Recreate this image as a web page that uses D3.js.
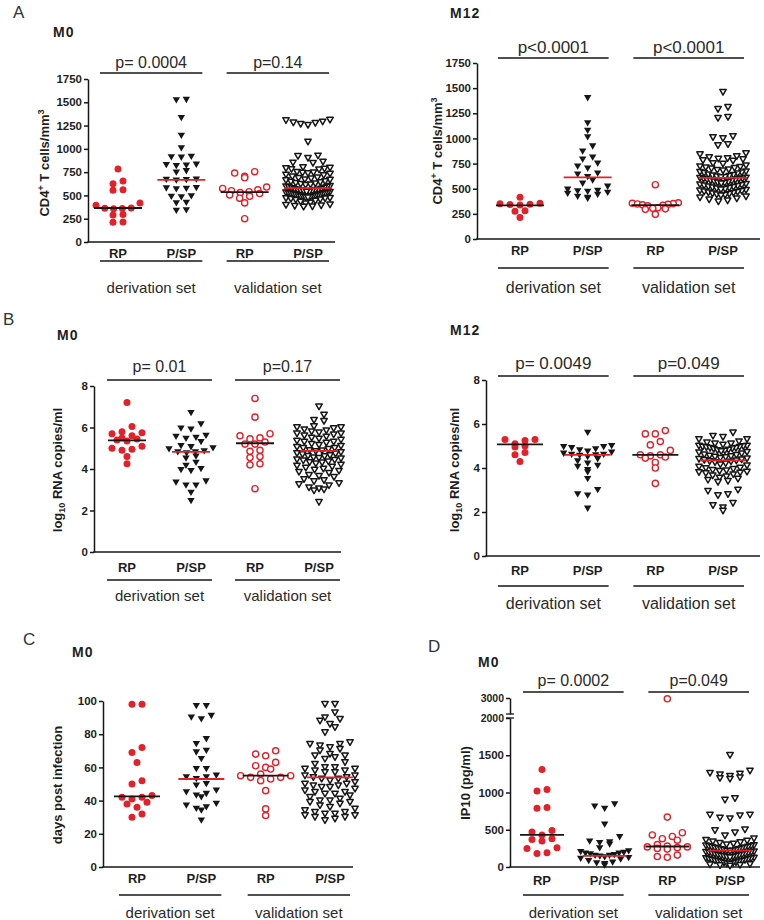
<!DOCTYPE html>
<html><head><meta charset="utf-8">
<script src="https://cdn.jsdelivr.net/npm/d3@7"></script>
<style>
body{margin:0;background:#fff;}
svg text{font-family:"Liberation Sans",Arial,Helvetica,sans-serif;}
</style></head><body>
<svg id="c" width="764" height="920"></svg>
<script>
// ---------------- DATA ----------------
const categories = ["RP","P/SP","RP","P/SP"];
const groupLabels = ["derivation set","validation set"];

const cd4Ticks = [0,250,500,750,1000,1250,1500,1750];
const rnaTicks = [0,2,4,6,8];
const daysTicks = [0,20,40,60,80,100];
const ip10LowTicks = [0,500,1000,1500,2000];
const ip10HighTicks = [3000];

// A  CD4 M0
const cd4M0_derRP = [785,655,625,560,555,420,395,365,362,360,358,295,290,215,212];
const cd4M0_derPSP = [1525,1520,1330,1140,1005,915,910,905,830,825,820,815,760,745,670,668,665,660,580,575,570,565,490,485,480,420,415,340,335];
const cd4M0_valRP = [755,740,705,690,590,575,560,550,540,530,520,505,490,470,420,250];
const cd4M0_valPSP = [1310,1305,1290,1280,1275,1265,1255,1075,925,920,900,860,850,845,800,795,790,785,780,775,
  750,745,740,735,730,720,715,700,690,685,680,670,665,660,650,645,640,630,625,620,615,610,
  600,595,590,585,580,575,570,565,560,558,555,550,548,545,540,538,535,530,528,525,520,518,515,510,508,505,500,498,495,490,488,485,
  480,478,475,470,468,465,460,455,450,440,430,420,410,400,395,390,385,380,375];
const cd4M0_medians = [365,668,536,578];
const cd4M0_p = ["p= 0.0004","p=0.14"];

// A  CD4 M12
const cd4M12_derRP = [415,355,350,345,342,338,280,275,215];
const cd4M12_derPSP = [1400,1150,1075,1010,920,870,810,790,750,720,700,650,640,615,580,550,520,490,480,475,470,460,450,440,420,410,400];
const cd4M12_valRP = [540,360,355,352,348,345,340,335,330,310,305,300,295,245];
const cd4M12_valPSP = [1460,1310,1290,1210,1200,1020,1010,1000,940,930,850,840,820,810,800,795,790,780,775,
  750,745,730,720,715,710,705,700,690,685,680,670,665,660,655,650,640,635,630,625,620,615,612,608,
  605,600,598,595,590,585,580,575,570,565,560,555,550,545,540,535,530,525,520,515,510,505,500,495,
  490,485,480,475,470,465,460,455,450,445,440,435,430,420,410,400,390,380,370];
const cd4M12_medians = [335,612,337,607];
const cd4M12_p = ["p<0.0001","p<0.0001"];

// B  RNA M0
const rnaM0_derRP = [7.2,6.05,5.8,5.75,5.7,5.6,5.5,5.45,5.4,5.35,5.1,5.0,4.95,4.9,4.6,4.25];
const rnaM0_derPSP = [6.7,6.15,5.95,5.9,5.6,5.55,5.5,5.45,5.3,5.1,5.05,5.0,4.95,4.85,4.8,4.8,4.75,4.6,4.5,4.3,4.15,4.0,3.95,3.9,3.4,3.35,3.2,3.2,2.85,2.45];
const rnaM0_valRP = [7.4,6.5,5.7,5.6,5.5,5.45,5.3,5.2,5.2,4.9,4.85,4.6,4.55,4.25,4.2,3.05];
const rnaM0_valPSP = [7.0,6.6,6.35,6.3,6.05,6.0,6.0,5.95,5.9,5.85,5.8,5.75,5.7,5.7,5.65,5.6,5.55,5.5,
  5.45,5.4,5.35,5.3,5.3,5.25,5.2,5.15,5.1,5.05,5.0,5.0,4.95,4.9,4.88,4.85,4.8,4.75,4.72,4.7,4.65,4.62,4.6,4.55,4.52,4.5,4.45,4.42,
  4.4,4.35,4.32,4.3,4.25,4.2,4.15,4.1,4.05,4.0,3.95,3.9,3.85,3.8,3.7,3.65,3.6,3.5,3.45,3.4,3.3,3.25,3.2,3.1,3.05,3.0,2.95,2.4];
const rnaM0_medians = [5.38,4.83,5.24,4.87];
const rnaM0_p = ["p= 0.01","p=0.17"];

// B  RNA M12
const rnaM12_derRP = [5.3,5.3,5.25,5.1,5.0,4.95,4.7,4.6,4.3];
const rnaM12_derPSP = [5.6,5.0,4.95,4.95,4.9,4.85,4.8,4.75,4.7,4.65,4.6,4.6,4.58,4.55,4.5,4.4,4.3,4.2,4.1,4.05,3.9,3.8,3.5,3.0,2.8,2.75,2.15];
const rnaM12_valRP = [5.7,5.55,5.55,5.2,5.05,4.8,4.6,4.6,4.55,4.5,4.45,4.25,4.0,3.3];
const rnaM12_valPSP = [5.6,5.45,5.4,5.3,5.3,5.2,5.15,5.1,5.1,5.05,5.0,5.0,4.98,4.96,4.95,
  4.93,4.9,4.9,4.88,4.85,4.82,4.8,4.78,4.75,4.72,4.7,4.65,4.6,4.58,4.55,4.52,4.5,4.48,4.45,4.42,
  4.4,4.38,4.35,4.33,4.3,4.28,4.25,4.2,4.15,4.1,4.05,4.0,3.98,3.95,3.9,3.88,3.85,3.82,3.8,3.78,
  3.75,3.7,3.65,3.6,3.55,3.5,3.45,3.4,3.35,3.0,2.95,2.8,2.75,2.4,2.3,2.2,2.05];
const rnaM12_medians = [5.07,4.6,4.6,4.35];
const rnaM12_p = ["p= 0.0049","p=0.049"];

// C  days post infection M0
const daysM0_derRP = [98,98,72,69,63,52,50,43,42,42,41,39,38,36,32,30];
const daysM0_derPSP = [97,97,91,90,89,77,74,70,69,65,59,59,55,54,54,53,50,49,46,45,44,43,42,38,37,36,35,34,28];
const daysM0_valRP = [70,68,67,63,61,60,59,56,55,55,54,54,53,52,46,35,31];
const daysM0_valPSP = [98,98,93,90,89,88,86,84,81,75,74,74,73,72,71,70,68,67,67,66,65,63,62,
  60,60,59,59,58,58,57,57,55,55,54,54,53,53,52,51,50,50,49,49,48,48,47,46,45,45,44,44,43,42,
  41,40,40,39,39,38,37,36,35,34,33,33,32,32,31,31,30,30,29,28];
const daysM0_medians = [42.5,53,55,54];

// D  IP10 M0
const ip10M0_derRP = [1310,1040,1020,800,790,490,470,430,380,370,350,260,250,190,180];
const ip10M0_derPSP = [840,810,780,570,400,340,330,320,300,250,210,200,190,180,180,170,160,150,150,140,130,120,110,100,80,60,50,40,20];
const ip10M0_valRP = [2950,670,460,430,410,380,360,300,280,270,270,260,250,240,160,140,130];
const ip10M0_valPSP = [1500,1290,1260,1250,1240,1220,1200,1190,1180,920,900,700,700,690,660,650,500,490,460,420,
  380,360,350,340,330,320,310,300,290,285,280,275,270,265,260,255,250,245,240,235,230,225,220,215,210,205,200,195,
  190,185,180,175,170,165,160,155,150,145,140,135,130,125,120,115,110,105,100,95,90,85,80,75,70,65,60,55,50,45,40,35,30,25,20,15];
const ip10M0_medians = [430,150,275,220];
const ip10M0_p = ["p= 0.0002","p=0.049"];

// ---------------- DRAWING ----------------
const RED = "#e3212a", INK = "#161616", TXT = "#1e1e1e";
const svg = d3.select("#c");

function swarm(values, yf, h, sp, maxHalf) {
  const pts = values.map(v => ({v, py: yf(v)})).sort((a,b) => a.py - b.py);
  const bins = [];
  let cur = null;
  pts.forEach(p => {
    if (!cur || p.py - cur.start > h) { cur = {start: p.py, items: []}; bins.push(cur); }
    cur.items.push(p);
  });
  bins.forEach(b => {
    const k = b.items.length;
    const s = k > 1 ? Math.min(sp, 2 * maxHalf / (k - 1)) : 0;
    const offs = d3.range(k).map(i => (i - (k - 1) / 2) * s)
      .sort((a, c) => Math.abs(a) - Math.abs(c) || a - c);
    const items = b.items.slice().sort((a, c) => c.py - a.py);
    items.forEach((p, i) => p.dx = offs[i]);
  });
  return pts;
}

const triPath = "M-3.7,-3.1L3.7,-3.1L0,3.2Z";
const triPathO = "M-3.2,-2.7L3.2,-2.7L0,2.9Z";

function styleAxis(a) {
  a.select(".domain").attr("stroke", INK).attr("stroke-width", 1.5);
  a.selectAll(".tick line").attr("stroke", INK).attr("stroke-width", 1.5);
  a.selectAll(".tick text").attr("font-size", 11.5).attr("font-weight", "bold").attr("fill", TXT)
    .attr("font-family", "'Liberation Sans',Arial,sans-serif");
}

function drawPanel(p) {
  const g = svg.append("g");
  const x = d3.scalePoint().domain(d3.range(categories.length)).range([p.c0, p.c3]);
  const fmt = d3.format("d");
  let yf;
  if (p.broken) {
    const yLow = d3.scaleLinear().domain([0, 2000]).range([p.yBot, p.yBreakLow]);
    const yHigh = d3.scaleLinear().domain([2000, 3000]).range([p.yBreakHigh, p.yTop]);
    yf = v => v <= 2000 ? yLow(v) : yHigh(v);
    const aL = g.append("g").attr("transform", `translate(${p.axisX},0)`)
      .call(d3.axisLeft(yLow).tickValues(p.ticks).tickFormat(fmt).tickSize(4).tickSizeOuter(0).tickPadding(2));
    const aH = g.append("g").attr("transform", `translate(${p.axisX},0)`)
      .call(d3.axisLeft(yHigh).tickValues(p.ticksHigh).tickFormat(fmt).tickSize(4).tickSizeOuter(0).tickPadding(2));
    [aL, aH].forEach(styleAxis);
    aL.selectAll(".tick text").filter(d => d === 2000).attr("font-size", 10.5);
    aH.selectAll(".tick text").attr("font-size", 10.5);
    // break marks
    [p.yBreakHigh, p.yBreakLow].forEach(yy => {
      g.append("line").attr("x1", p.axisX - 4).attr("x2", p.axisX + 4)
        .attr("y1", yy).attr("y2", yy).attr("stroke", INK).attr("stroke-width", 1.3);
    });
  } else {
    const y = d3.scaleLinear().domain(p.domain).range([p.yBot, p.yTop]);
    yf = v => y(v);
    const a = g.append("g").attr("transform", `translate(${p.axisX},0)`)
      .call(d3.axisLeft(y).tickValues(p.ticks).tickFormat(fmt).tickSize(4).tickSizeOuter(0).tickPadding(2));
    styleAxis(a);
  }
  // x axis
  g.append("line").attr("x1", p.axisX - 0.75).attr("x2", p.xEnd).attr("y1", p.yBot).attr("y2", p.yBot)
    .attr("stroke", INK).attr("stroke-width", 1.5);

  // points
  const types = ["fc", "ft", "oc", "ot"];
  p.groups.forEach((vals, gi) => {
    const pts = swarm(vals, yf, p.binH || 6, p.sp || 10, p.maxHalf || 24);
    const t = types[gi];
    const cx = x(gi);
    pts.forEach(pt => {
      const X = cx + pt.dx, Y = pt.py;
      if (t === "fc") g.append("circle").attr("cx", X).attr("cy", Y).attr("r", 3.5).attr("fill", RED);
      else if (t === "oc") g.append("circle").attr("cx", X).attr("cy", Y).attr("r", 3.1)
        .attr("fill", "#fff").attr("stroke", RED).attr("stroke-width", 1.4);
      else if (t === "ft") g.append("path").attr("d", triPath).attr("transform", `translate(${X},${Y})`).attr("fill", INK);
      else g.append("path").attr("d", triPathO).attr("transform", `translate(${X},${Y})`)
        .attr("fill", "#fff").attr("stroke", INK).attr("stroke-width", 1.5).attr("stroke-linejoin", "round");
    });
  });
  // medians
  p.medians.forEach((m, i) => {
    g.append("line").attr("x1", x(i) - p.mw).attr("x2", x(i) + p.mw)
      .attr("y1", yf(m)).attr("y2", yf(m))
      .attr("stroke", i % 2 === 0 ? INK : RED).attr("stroke-width", 1.8);
  });

  // category labels
  categories.forEach((c, i) => {
    g.append("text").attr("x", x(i)).attr("y", p.catY).attr("text-anchor", "middle")
      .attr("font-size", 13).attr("font-weight", "bold").attr("fill", TXT).text(c);
  });
  // group lines & labels, p-values
  const spans = [[x(0) - p.gl, x(1) + p.gr], [x(2) - p.gl, x(3) + p.gr]];
  spans.forEach((s, i) => {
    g.append("line").attr("x1", s[0]).attr("x2", s[1]).attr("y1", p.gLineY).attr("y2", p.gLineY)
      .attr("stroke", INK).attr("stroke-width", 1.3);
    g.append("text").attr("x", (s[0] + s[1]) / 2).attr("y", p.gLabelY).attr("text-anchor", "middle")
      .attr("font-size", p.gfs).attr("fill", "#2a2a2a").text(groupLabels[i]);
    if (p.pvals) {
      g.append("line").attr("x1", s[0]).attr("x2", s[1]).attr("y1", p.pLineY).attr("y2", p.pLineY)
        .attr("stroke", INK).attr("stroke-width", 1.3);
      g.append("text").attr("x", (s[0] + s[1]) / 2).attr("y", p.pTextY).attr("text-anchor", "middle")
        .attr("font-size", p.pfs).attr("fill", "#2a2a2a").text(p.pvals[i]);
    }
  });
  // M label and panel letter
  g.append("text").attr("x", p.mx).attr("y", p.my).attr("font-size", 14).attr("font-weight", "bold")
    .attr("letter-spacing", 1).attr("fill", TXT).text(p.m);
  if (p.letter) g.append("text").attr("x", p.lx).attr("y", p.ly).attr("font-size", 17).attr("fill", "#333").text(p.letter);

  // y title
  const tt = g.append("text").attr("transform", `translate(${p.titleX},${p.titleY}) rotate(-90)`)
    .attr("text-anchor", "middle").attr("font-size", 13).attr("font-weight", "bold").attr("fill", TXT);
  p.title.forEach(seg => {
    const ts = tt.append("tspan").text(seg.t);
    if (seg.sup) ts.attr("font-size", 9).attr("dy", -5);
    if (seg.sub) ts.attr("font-size", 9).attr("dy", 3);
    if (seg.back) ts.attr("dy", seg.back);
  });
}

const cd4Title = [{t: "CD4"}, {t: "+", sup: true}, {t: " T cells/mm", back: 5}, {t: "3", sup: true}];
const rnaTitle = [{t: "log"}, {t: "10", sub: true}, {t: " RNA copies/ml", back: -3}];
const daysTitle = [{t: "days post infection"}];
const ip10Title = [{t: "IP10 (pg/ml)"}];

const panels = [
  {letter: "A", lx: 13, ly: 18, m: "M0", mx: 53, my: 37, axisX: 88, yTop: 79, yBot: 242, domain: [0, 1750], ticks: cd4Ticks,
   xEnd: 335, c0: 118, c3: 308, pLineY: 73, pTextY: 68, pvals: cd4M0_p, pfs: 16, catY: 258, gLineY: 261, gLabelY: 293, gfs: 15,
   gl: 18, gr: 21, titleX: 49, titleY: 163, title: cd4Title, mw: 24, binH: 6, sp: 10, maxHalf: 22,
   groups: [cd4M0_derRP, cd4M0_derPSP, cd4M0_valRP, cd4M0_valPSP], medians: cd4M0_medians},
  {m: "M12", mx: 450, my: 18, axisX: 477, yTop: 63, yBot: 239, domain: [0, 1750], ticks: cd4Ticks,
   xEnd: 760, c0: 520, c3: 723, pLineY: 58, pTextY: 53, pvals: cd4M12_p, pfs: 17, catY: 255, gLineY: 268, gLabelY: 293, gfs: 16,
   gl: 22, gr: 21, titleX: 442, titleY: 151, title: cd4Title, mw: 24, binH: 6, sp: 10, maxHalf: 23,
   groups: [cd4M12_derRP, cd4M12_derPSP, cd4M12_valRP, cd4M12_valPSP], medians: cd4M12_medians},
  {letter: "B", lx: 3, ly: 325, m: "M0", mx: 57, my: 340, axisX: 94, yTop: 386, yBot: 552, domain: [0, 8], ticks: rnaTicks,
   xEnd: 341, c0: 127, c3: 319, pLineY: 380, pTextY: 372, pvals: rnaM0_p, pfs: 16, catY: 572, gLineY: 580, gLabelY: 601, gfs: 15,
   gl: 20, gr: 21, titleX: 62, titleY: 470, title: rnaTitle, mw: 19, binH: 6, sp: 10, maxHalf: 22,
   groups: [rnaM0_derRP, rnaM0_derPSP, rnaM0_valRP, rnaM0_valPSP], medians: rnaM0_medians},
  {m: "M12", mx: 450, my: 335, axisX: 486, yTop: 380, yBot: 556, domain: [0, 8], ticks: rnaTicks,
   xEnd: 760, c0: 520, c3: 723, pLineY: 376, pTextY: 369, pvals: rnaM12_p, pfs: 17, catY: 575, gLineY: 586, gLabelY: 609, gfs: 16,
   gl: 22, gr: 21, titleX: 459, titleY: 470, title: rnaTitle, mw: 23, binH: 6, sp: 10, maxHalf: 24,
   groups: [rnaM12_derRP, rnaM12_derPSP, rnaM12_valRP, rnaM12_valPSP], medians: rnaM12_medians},
  {letter: "C", lx: 23, ly: 645, m: "M0", mx: 72, my: 657, axisX: 103, yTop: 701, yBot: 867, domain: [0, 100], ticks: daysTicks,
   xEnd: 353, c0: 137, c3: 330, catY: 883, gLineY: 895, gLabelY: 918, gfs: 15,
   gl: 18, gr: 20, titleX: 62, titleY: 785, title: daysTitle, mw: 23, binH: 6, sp: 10, maxHalf: 25,
   groups: [daysM0_derRP, daysM0_derPSP, daysM0_valRP, daysM0_valPSP], medians: daysM0_medians},
  {letter: "D", lx: 428, ly: 652, m: "M0", mx: 478, my: 667, axisX: 510, yTop: 698, yBot: 867, broken: true,
   yBreakLow: 718, yBreakHigh: 714, ticks: ip10LowTicks, ticksHigh: ip10HighTicks,
   xEnd: 760, c0: 542, c3: 730, pLineY: 692, pTextY: 686, pvals: ip10M0_p, pfs: 16, catY: 885, gLineY: 895, gLabelY: 918, gfs: 15,
   gl: 19, gr: 19, titleX: 470, titleY: 783, title: ip10Title, mw: 22, binH: 6, sp: 10, maxHalf: 24,
   groups: [ip10M0_derRP, ip10M0_derPSP, ip10M0_valRP, ip10M0_valPSP], medians: ip10M0_medians}
];

panels.forEach(drawPanel);
</script>
</body></html>
